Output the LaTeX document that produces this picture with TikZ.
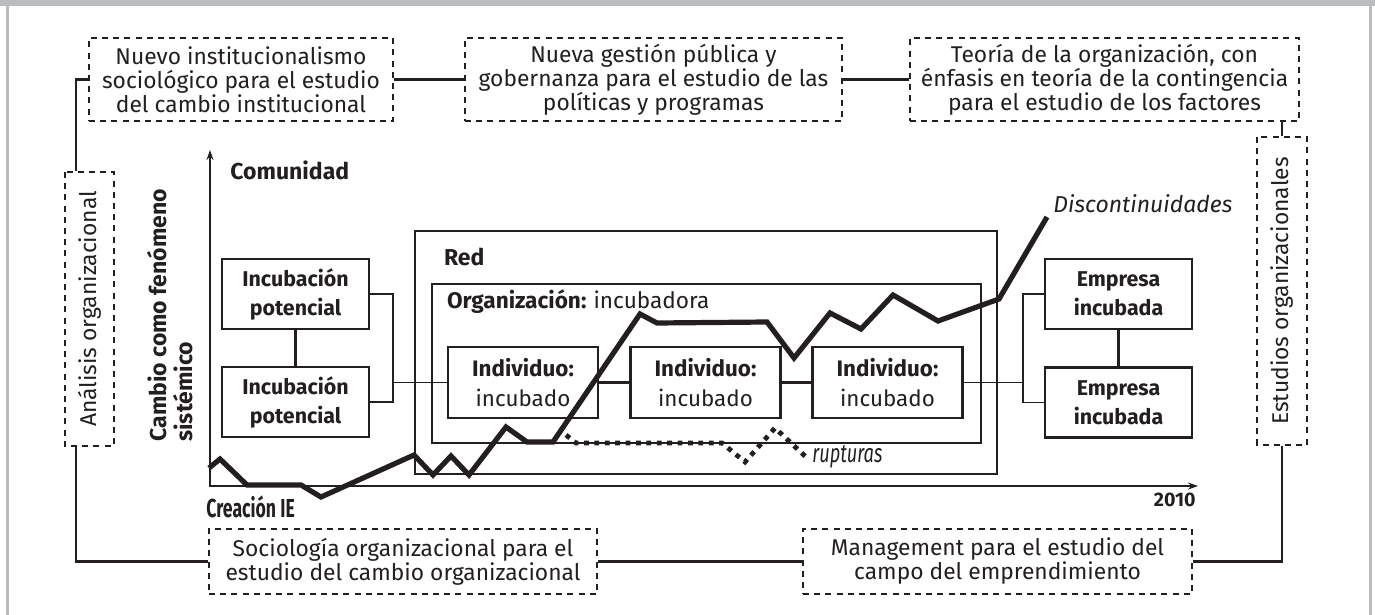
\documentclass[tikz,border=0pt]{standalone}
\usepackage{fontspec}
\usepackage{graphicx}
\setmainfont{Fira Sans}
\usetikzlibrary{arrows.meta, positioning}
\definecolor{ink}{HTML}{231F20}
\definecolor{framegray}{HTML}{BBBCBF}

\begin{document}
\begin{tikzpicture}[
  x=0.5pt, y=-0.5pt, color=ink,
  >={Stealth[length=5pt,width=3.5pt]},
  dashbox/.style={draw, line width=1.2pt, dash pattern=on 3pt off 2.6pt,
    align=center, inner sep=0pt, font=\fontsize{11.4}{12}\selectfont},
  solidbox/.style={draw, line width=1.4pt, align=center, inner sep=0pt,
    minimum width=73.5pt, minimum height=35pt,
    font=\bfseries\fontsize{10.7}{14.5}\selectfont},
  indbox/.style={solidbox, minimum width=75pt, minimum height=35.5pt,
    font=\fontsize{11.2}{15}\selectfont},
  frame/.style={draw, line width=1.4pt, inner sep=0pt},
  axis/.style={line width=1.4pt},
  link/.style={line width=1.2pt},
  thinlink/.style={line width=0.6pt},
  trend/.style={line width=2.6pt},
  ruptura/.style={line width=2.4pt, dash pattern=on 2.4pt off 2.8pt},
  lbl/.style={inner sep=0pt, font=\bfseries\fontsize{11.5}{13}\selectfont}
]
  \useasboundingbox (0,0) rectangle (1375,615);

  % page frame
  \fill[framegray] (0,0) rectangle (1375,6);
  \fill[framegray] (6,6) rectangle (8.5,615);
  \fill[framegray] (1369,6) rectangle (1371.5,615);

  % theory boxes
  \node[dashbox, minimum width=152pt, minimum height=41.5pt] (nis) at (241,79.5)
    {Nuevo institucionalismo\\sociológico para el estudio\\del cambio institucional};
  \node[dashbox, minimum width=188.5pt, minimum height=41.5pt] (ngp) at (653.5,79.5)
    {Nueva gestión pública y\\gobernanza para el estudio de las\\políticas y programas};
  \node[dashbox, minimum width=194.5pt, minimum height=41.5pt] (teo) at (1104.5,79.5)
    {Teoría de la organización, con\\énfasis en teoría de la contingencia\\para el estudio de los factores};
  \node[dashbox, rotate=90, minimum width=137pt, minimum height=24.5pt] (anal)
    at (89.5,309) {Análisis organizacional};
  \node[dashbox, rotate=90, minimum width=154pt, minimum height=25pt] (estu)
    at (1282,291) {Estudios organizacionales};
  \node[dashbox, minimum width=194pt, minimum height=32.5pt] (soc) at (403,561.5)
    {Sociología organizacional para el\\estudio del cambio organizacional};
  \node[dashbox, minimum width=194.5pt, minimum height=32.5pt] (man) at (997.5,561.5)
    {Management para el estudio del\\campo del emprendimiento};

  \coordinate (lj) at (76,0);
  \draw[link] (nis.west) -| (lj |- anal.east);
  \draw[link] (lj |- anal.west) |- (soc.west);
  \draw[link] (nis.east) -- (ngp.west);
  \draw[link] (ngp.east) -- (teo.west);
  \draw[link] (teo.south -| estu.east) -- (estu.east);
  \draw[link] (estu.west) |- (man.east);
  \draw[link] (soc.east) -- (man.west);

  % axes
  \coordinate (ytop) at (210,150);
  \coordinate (xend) at (1198,486);
  \draw[axis, <->] (ytop) |- (xend);
  \node[lbl, anchor=west] (com) at (230,170) {Comunidad};
  \node[lbl, rotate=90, anchor=west, align=left] (cam) at (170,442)
    {Cambio como fenómeno\\sistémico};
  \node[lbl, anchor=west, font=\bfseries\fontsize{13}{15}\selectfont] (crea)
    at (206,507) {\scalebox{0.68}[1]{Creación IE}};
  \node[lbl, anchor=east, font=\bfseries\fontsize{9.8}{11}\selectfont] (yr)
    at (1196,500) {2010};

  % levels
  \node[frame, minimum width=291pt, minimum height=121.5pt] (red) at (706,352.5) {};
  \node[frame, minimum width=274.5pt, minimum height=79.5pt] (org) at (706.5,363.5) {};
  \node[lbl, anchor=west] at ([xshift=15pt,yshift=-13.5pt]red.north west) {Red};
  \node[lbl, anchor=west, font=\bfseries\fontsize{11.3}{13}\selectfont]
    at ([xshift=8pt,yshift=-9.5pt]org.north west) {Organización: \textmd{incubadora}};

  \node[solidbox] (inc1) at (295.5,294) {Incubación\\potencial};
  \node[solidbox] (inc2) at (295.5,402) {Incubación\\potencial};
  \node[solidbox] (emp1) at (1118.5,294) {Empresa\\incubada};
  \node[solidbox] (emp2) at (1118.5,402.5) {Empresa\\incubada};
  \node[indbox] (ind1) at (523,382.5) {\textbf{Individuo:}\\incubado};
  \node[indbox] (ind2) at (705.5,382.5) {\textbf{Individuo:}\\incubado};
  \node[indbox] (ind3) at (887.5,382.5) {\textbf{Individuo:}\\incubado};

  \draw[link] (inc1) -- (inc2);
  \draw[link] (emp1) -- (emp2);
  \draw[link] (ind1) -- (ind2);
  \draw[link] (ind2) -- (ind3);

  \coordinate (bl) at (393,382.5);
  \draw[thinlink] (inc1.east) -| (bl) |- (inc2.east);
  \draw[thinlink] (bl) -- (ind1.west);
  \coordinate (br) at (1023,382.5);
  \draw[thinlink] (emp1.west) -| (br) |- (emp2.west);
  \draw[thinlink] (ind3.east) -- (br);

  % trajectory
  \coordinate (rz) at (806,457);
  \draw[ruptura] (566,435) -- (576,443) -- (722,443) -- (745,462) -- (775,428) -- (rz);
  \node[right=3pt of rz, inner sep=0pt] (rup)
    {\itshape\fontsize{13}{15}\selectfont\scalebox{0.7}[1]{rupturas}};

  \coordinate (tip) at (1047,217);
  \draw[trend] (209,468) -- (220,459) -- (247,485) -- (301,485) -- (321,497)
    -- (414,455) -- (433,475) -- (451,456) -- (469,475) -- (506,427)
    -- (527,442) -- (553,442) -- (640,314) -- (657,323) -- (767,322)
    -- (794,358) -- (830,313) -- (861,329) -- (893,295) -- (938,321)
    -- (999,299) -- (tip);
  \node[inner sep=0pt, anchor=west, font=\itshape\fontsize{11.5}{13}\selectfont] (dis)
    at (1053,204) {Discontinuidades};
\end{tikzpicture}
\end{document}
